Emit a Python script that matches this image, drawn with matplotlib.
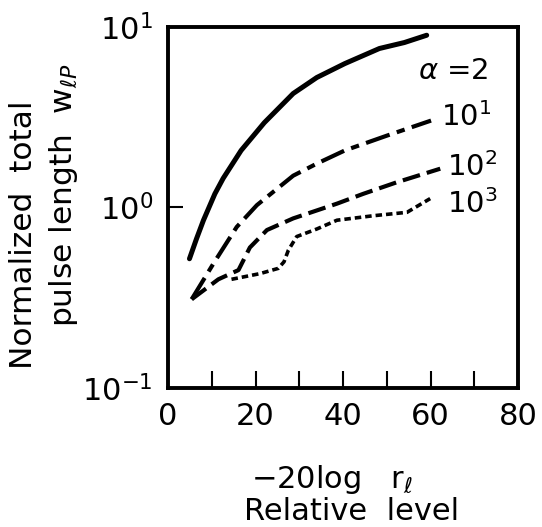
import matplotlib.pyplot as plt
import matplotlib.ticker as ticker

# curves (x: -20log r_l, y: normalized pulse length)
x_a2 = [4.9, 6.5, 8.1, 10.7, 12.6, 16.7, 22.0, 28.6, 34.0, 40.4, 48.3, 54.0, 59.1]
y_a2 = [0.52, 0.67, 0.85, 1.19, 1.45, 2.07, 2.95, 4.28, 5.25, 6.27, 7.6, 8.2, 9.0]

x_a10 = [5.4, 10.4, 15.7, 20.3, 28.6, 34.0, 40.4, 50.0, 60.1]
y_a10 = [0.31, 0.49, 0.78, 1.03, 1.5, 1.75, 2.07, 2.5, 3.03]

x_a100 = [5.4, 11.5, 16.1, 18.7, 22.6, 28.6, 38.6, 44.6, 52.3, 62.2]
y_a100 = [0.31, 0.40, 0.45, 0.60, 0.75, 0.87, 1.05, 1.19, 1.38, 1.64]

x_a1000 = [14.5, 21.0, 25.2, 26.5, 27.5, 29.4, 34.0, 38.6, 46.9, 54.6, 59.9]
y_a1000 = [0.40, 0.43, 0.46, 0.50, 0.58, 0.69, 0.76, 0.85, 0.90, 0.94, 1.12]

curve_labels = ["$\\alpha$ =2", "10$^{1}$", "10$^{2}$", "10$^{3}$"]
label_pos = [(57.2, 5.67), (62.4, 3.16), (63.8, 1.67), (63.8, 1.05)]

plt.rcParams["mathtext.fontset"] = "dejavusans"

fig = plt.figure(figsize=(5.42, 5.27), dpi=100)
ax = fig.add_axes([0.31, 0.2638, 0.646, 0.685])

ax.plot(x_a2, y_a2, color="black", lw=3.6, solid_capstyle="round")
ax.plot(x_a10, y_a10, color="black", lw=3.0, dashes=(6, 1.8, 2, 1.8))
ax.plot(x_a100, y_a100, color="black", lw=3.0, dashes=(4.3, 1.7))
ax.plot(x_a1000, y_a1000, color="black", lw=2.6, dashes=(1.8, 1.1))

for lab, (lx, ly) in zip(curve_labels, label_pos):
    ax.text(lx, ly, lab, fontsize=21, va="center", ha="left")

ax.set_yscale("log")
ax.set_xlim(0, 80)
ax.set_ylim(0.1, 10)

ax.xaxis.set_major_locator(ticker.MultipleLocator(10))
ax.xaxis.set_major_formatter(ticker.FuncFormatter(
    lambda v, _: f"{v:.0f}" if int(round(v)) % 20 == 0 else ""))
ax.yaxis.set_major_locator(ticker.FixedLocator([0.1, 1, 10]))
ax.yaxis.set_major_formatter(ticker.FixedFormatter(
    ["10$^{-1}$", "10$^{0}$", "10$^{1}$"]))
ax.yaxis.set_minor_locator(ticker.NullLocator())

ax.tick_params(axis="x", direction="in", length=12, width=1.5,
               labelsize=22, pad=10)
ax.tick_params(axis="y", direction="in", length=11, width=1.5,
               labelsize=22, pad=11)
for spine in ax.spines.values():
    spine.set_linewidth(2.8)

# axis titles placed as free text to follow the scan's offsets
fig.text(24 / 542, 1 - 235 / 527, "Normalized  total", rotation=90,
         fontsize=22.5, ha="center", va="center")
fig.text(63 / 542, 1 - 195 / 527, "pulse length  w$_{\\ell P}$", rotation=90,
         fontsize=22.5, ha="center", va="center")
fig.text(332 / 542, 1 - 479 / 527, "\u221220log   r$_{\\ell}$",
         fontsize=22, ha="center", va="center")
fig.text(352 / 542, 1 - 511 / 527, "Relative  level",
         fontsize=22, ha="center", va="center")

fig.savefig("out.png", dpi=100)
